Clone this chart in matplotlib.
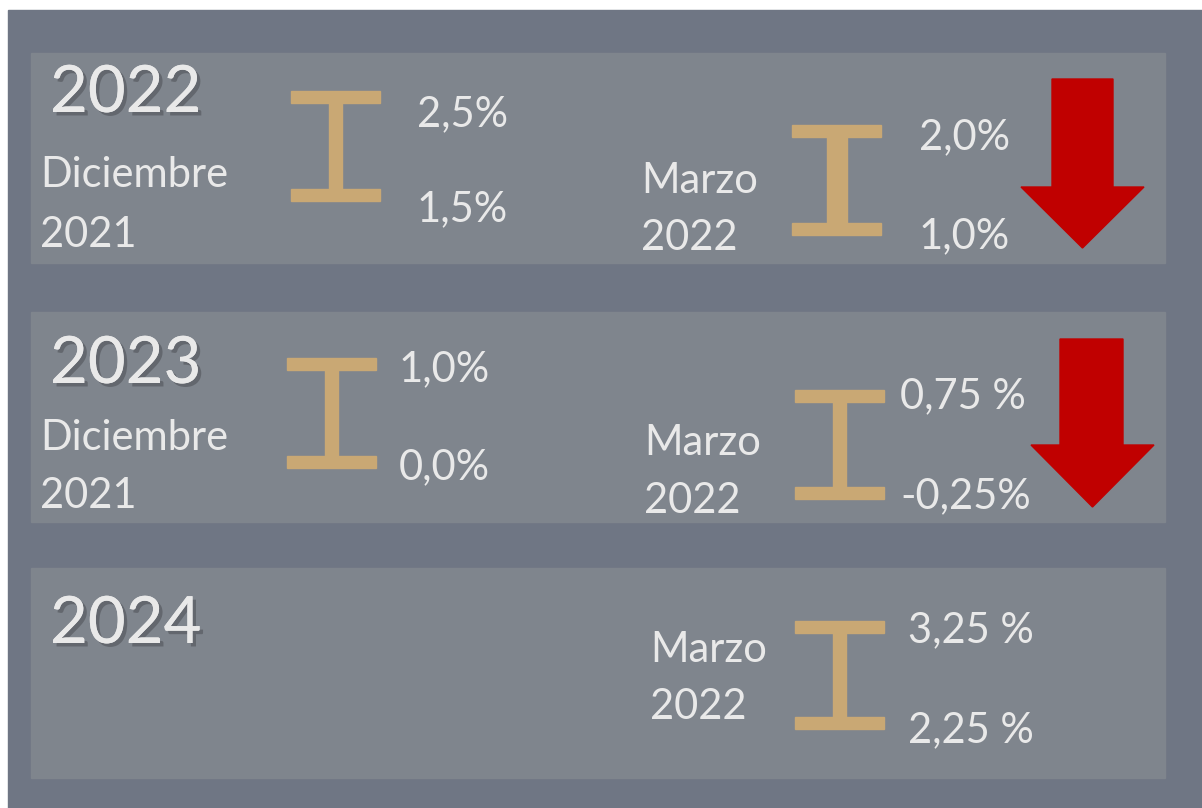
import matplotlib.pyplot as plt
import matplotlib.patches as mpatches
import matplotlib.patheffects as pe

# forecast ranges (low, high) by year
years = ['2022', '2023', '2024']
dec_labels = ['Diciembre\n2021', 'Diciembre\n2021', None]
dec_high = ['2,5%', '1,0%', None]
dec_low = ['1,5%', '0,0%', None]
mar_labels = ['Marzo\n2022', 'Marzo\n2022', 'Marzo\n2022']
mar_high = ['2,0%', '0,75 %', '3,25 %']
mar_low = ['1,0%', '-0,25%', '2,25 %']
revised_down = [True, True, False]

plt.rcParams['font.family'] = ['Lato', 'DejaVu Sans']
W, H = 1202, 808
fig = plt.figure(figsize=(W / 100, H / 100), dpi=100)
ax = fig.add_axes([0, 0, 1, 1])
ax.set_xlim(0, W)
ax.set_ylim(H, 0)
ax.axis('off')

bg = '#6f7684'
panel = '#7f858d'
gold = '#c9a874'
txt = '#e9e9e9'
red = '#c00000'

ax.add_patch(mpatches.Rectangle((8, 10), W - 8, H - 10, color=bg, zorder=0))

panel_top = [53, 312, 568]
# per-panel layout: beam positions / text positions
dec_beam = [(291, 97, 195, 13), (287, 364, 462, 13), None]
mar_beam = [(792, 131, 229, 20), (795, 396, 493, 13), (795, 627, 723, 13)]
dec_val_x = [417, 399, None]
dec_val_y = [(126, 221), (381, 479), None]
mar_val_x = [919, 900, 908]
mar_val_y = [(149, 248), (408, 508), (642, 742)]
mar_lab_x = [641, 644, 650]
mar_lab_y = [(193, 250), (455, 513), (662, 719)]
dec_lab_y = [(187, 247), (450, 508), None]
year_base = [112, 383, 643]
arrow_geo = [(1052, 1113, 79, 187, 1021, 1144, 248), (1060, 1123, 339, 445, 1031, 1154, 507), None]

shadow = [pe.withSimplePatchShadow(offset=(2.5, -2.5), shadow_rgbFace='black', alpha=0.22),
          pe.Normal()]


def beam(x0, ytop, ybot, stem):
    w, t = 89, 12
    ax.add_patch(mpatches.Rectangle((x0, ytop - t / 2), w, t, color=gold, zorder=2))
    ax.add_patch(mpatches.Rectangle((x0, ybot - t / 2), w, t, color=gold, zorder=2))
    cx = x0 + w / 2
    ax.add_patch(mpatches.Rectangle((cx - stem / 2, ytop), stem, ybot - ytop, color=gold, zorder=2))


for i, yr in enumerate(years):
    top = panel_top[i]
    ax.add_patch(mpatches.Rectangle((31, top), 1134, 210, color=panel, zorder=1))
    ax.text(50, year_base[i], yr, fontsize=47, color=txt, va='baseline', ha='left',
            path_effects=shadow, zorder=3)

    if dec_labels[i]:
        l1, l2 = dec_labels[i].split('\n')
        ax.text(40, dec_lab_y[i][0], l1, fontsize=30, color=txt, va='baseline', zorder=3)
        ax.text(40, dec_lab_y[i][1], l2, fontsize=30, color=txt, va='baseline', zorder=3)
        beam(*dec_beam[i])
        ax.text(dec_val_x[i], dec_val_y[i][0], dec_high[i], fontsize=30, color=txt, va='baseline', zorder=3)
        ax.text(dec_val_x[i], dec_val_y[i][1], dec_low[i], fontsize=30, color=txt, va='baseline', zorder=3)

    l1, l2 = mar_labels[i].split('\n')
    ax.text(mar_lab_x[i], mar_lab_y[i][0], l1, fontsize=30, color=txt, va='baseline', zorder=3)
    ax.text(mar_lab_x[i], mar_lab_y[i][1], l2, fontsize=30, color=txt, va='baseline', zorder=3)
    beam(*mar_beam[i])
    ax.text(mar_val_x[i], mar_val_y[i][0], mar_high[i], fontsize=30, color=txt, va='baseline', zorder=3)
    ax.text(mar_val_x[i], mar_val_y[i][1], mar_low[i], fontsize=30, color=txt, va='baseline', zorder=3)

    if revised_down[i]:
        sx0, sx1, sy0, hy, hx0, hx1, tip = arrow_geo[i]
        pts = [(sx0, sy0), (sx1, sy0), (sx1, hy), (hx1, hy), ((hx0 + hx1) / 2, tip),
               (hx0, hy), (sx0, hy)]
        ax.add_patch(mpatches.Polygon(pts, closed=True, color=red, zorder=3))

fig.savefig('out.png', dpi=100)
